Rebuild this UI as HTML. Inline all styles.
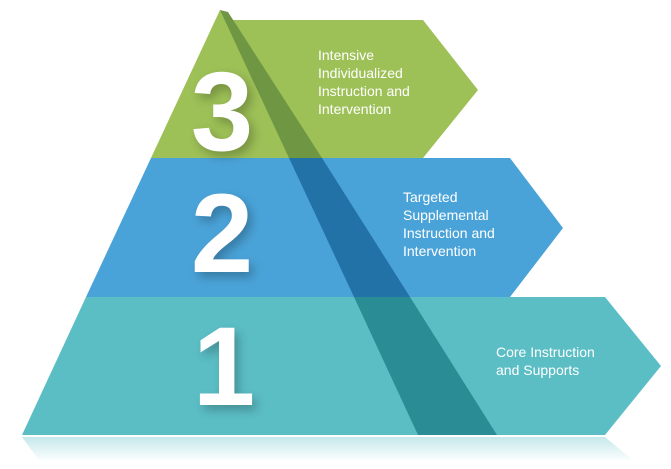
<!DOCTYPE html>
<html><head><style>
html,body{margin:0;padding:0;background:#fff;width:671px;height:469px;overflow:hidden}
svg{display:block}
text{font-family:"Liberation Sans",sans-serif;fill:#fff}
</style></head><body>
<svg width="671" height="469" viewBox="0 0 671 469" xmlns="http://www.w3.org/2000/svg">
<defs>
<linearGradient id="refl" x1="0" y1="0" x2="0" y2="1">
<stop offset="0" stop-color="#5bbec5" stop-opacity="0.35"/>
<stop offset="1" stop-color="#5bbec5" stop-opacity="0"/>
</linearGradient>
<filter id="sh" x="-50%" y="-50%" width="200%" height="200%"><feGaussianBlur stdDeviation="5"/></filter>
</defs>
<!-- reflection -->
<polygon points="22,437 605,437 635,462 40,462" fill="url(#refl)"/>
<!-- green tier -->
<polygon points="220,10 230,20 423,20 478,90 423,158 151,158" fill="#9dc057"/>
<!-- blue tier -->
<polygon points="151,158 510,158 563,228 510,297 86,297" fill="#4aa3d8"/>
<!-- teal tier -->
<polygon points="86,297 605,297 661,366 605,435 22,435" fill="#5bbec5"/>
<!-- dark band -->
<polygon points="220,10 228,12 322,158 289,158" fill="#6f9643"/>
<polygon points="289,158 322,158 410,297 354,297" fill="#2272a8"/>
<polygon points="354,297 410,297 497,435 418,435" fill="#2a8d96"/>
<!-- digit shadows -->
<g filter="url(#sh)" fill="#000" opacity="0.25" font-family="Liberation Sans,sans-serif" font-weight="bold" font-size="112" text-anchor="middle">
<text x="226" y="155" style="fill:#000">3</text>
<text x="226" y="277" style="fill:#000">2</text>
<text x="228" y="410" style="fill:#000">1</text>
</g>
<g font-weight="bold" font-size="112" text-anchor="middle">
<text x="222" y="150">3</text>
<text x="222" y="272">2</text>
<text x="224" y="405">1</text>
</g>
<g font-size="14">
<text x="318" y="60">Intensive</text>
<text x="318" y="78">Individualized</text>
<text x="318" y="96">Instruction and</text>
<text x="318" y="114">Intervention</text>
<text x="403" y="202">Targeted</text>
<text x="403" y="220">Supplemental</text>
<text x="403" y="238">Instruction and</text>
<text x="403" y="256">Intervention</text>
<text x="496" y="357">Core Instruction</text>
<text x="496" y="375">and Supports</text>
</g>
</svg>
</body></html>
